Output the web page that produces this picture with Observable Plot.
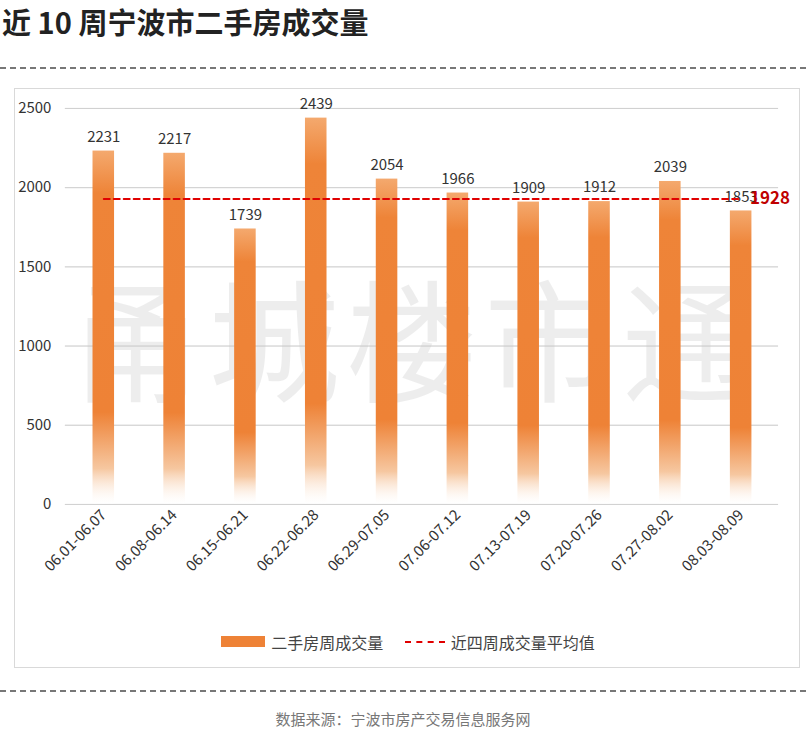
<!DOCTYPE html>
<html><head><meta charset="utf-8">
<script src="https://cdn.jsdelivr.net/npm/d3@7"></script>
<script src="https://cdn.jsdelivr.net/npm/@observablehq/plot@0.6"></script>
<style>
body{margin:0;background:#fff;font-family:"Noto Sans CJK SC","Noto Sans",sans-serif;}
#wrap{position:relative;width:806px;height:755px;}
#title{position:absolute;left:2px;top:0px;font-size:29px;font-weight:bold;color:#222;}
.dash{position:absolute;left:0;width:806px;border-top:2px dashed #777;}
#box{position:absolute;left:14px;top:88px;width:786px;height:580px;border:1px solid #d9d9d9;box-sizing:border-box;overflow:hidden;}
#wm{position:absolute;left:55px;top:150px;font-size:132px;color:rgba(0,0,0,0.07);letter-spacing:6px;white-space:nowrap;}
#chart{position:absolute;left:0;top:1px;}
#legend{position:absolute;top:538px;left:0;width:786px;text-align:center;font-size:16px;color:#444;}
#legend span{display:inline-block;vertical-align:middle;}
#src{position:absolute;top:708px;width:806px;text-align:center;font-size:15px;color:#777;}
</style></head>
<body><div id="wrap">
<div id="title">近 10 周宁波市二手房成交量</div>
<div class="dash" style="top:67px"></div>
<div id="box"><div id="wm">甬城楼市通</div><div id="chart"></div>
<div id="legend"><span style="width:44px;height:11px;background:#ee8236;margin-right:6px"></span><span>二手房周成交量</span>
<span style="width:40px;border-top:2px dashed #e00000;margin:0 6px 0 18px"></span><span>近四周成交量平均值</span></div></div>
<div class="dash" style="top:690px"></div>
<div id="src">数据来源：宁波市房产交易信息服务网</div>
</div>
<script>
const weeks = ["06.01-06.07","06.08-06.14","06.15-06.21","06.22-06.28","06.29-07.05","07.06-07.12","07.13-07.19","07.20-07.26","07.27-08.02","08.03-08.09"];
const volumes = [2231,2217,1739,2439,2054,1966,1909,1912,2039,1853];
const average = 1928;
const yTicks = [0,500,1000,1500,2000,2500];

const data = weeks.map((w,i) => ({week: w, v: volumes[i]}));

const chart = Plot.plot({
  width: 786, height: 525,
  marginTop: 18, marginBottom: 110, marginLeft: 50, marginRight: 21,
  style: {background: "transparent", fontSize: "15px", color: "#333", fontFamily: "'Noto Sans CJK SC',sans-serif"},
  x: {domain: weeks, padding: 0, label: null, tickRotate: -45, tickSize: 0, tickPadding: 8},
  y: {domain: [0,2500], ticks: yTicks, label: null, tickSize: 0, tickPadding: 14, grid: true, tickFormat: d => String(d)},
  marks: [
    Plot.gridY(yTicks, {stroke: "#d0d0d0", strokeOpacity: 1}),
    Plot.barY(data, {x: "week", y: "v", fill: "url(#barGrad)", insetLeft: 24.7, insetRight: 24.7}),
    Plot.text(data, {x: "week", y: "v", text: d => String(d.v), dy: -14, fill: "#333", fontSize: 15}),
    Plot.lineY(weeks, {x: d => d, y: () => average, stroke: "#e00000", strokeWidth: 2, strokeDasharray: "6,4"}),
    Plot.text([average], {x: () => weeks[weeks.length-1], y: d => d, text: d => String(d), dx: 29, fill: "#c00000", fontWeight: "bold", fontSize: 17})
  ]
});
const ns = "http://www.w3.org/2000/svg";
const defs = document.createElementNS(ns, "defs");
defs.innerHTML = `<linearGradient id="barGrad" x1="0" y1="0" x2="0" y2="1">
<stop offset="0" stop-color="#f4a96e"/><stop offset="0.12" stop-color="#ee8438"/>
<stop offset="0.74" stop-color="#ee8236"/><stop offset="0.9" stop-color="#f6c7a0"/>
<stop offset="1" stop-color="#ffffff" stop-opacity="0.2"/></linearGradient>`;
chart.insertBefore(defs, chart.firstChild);
document.getElementById("chart").append(chart);
</script></body></html>
